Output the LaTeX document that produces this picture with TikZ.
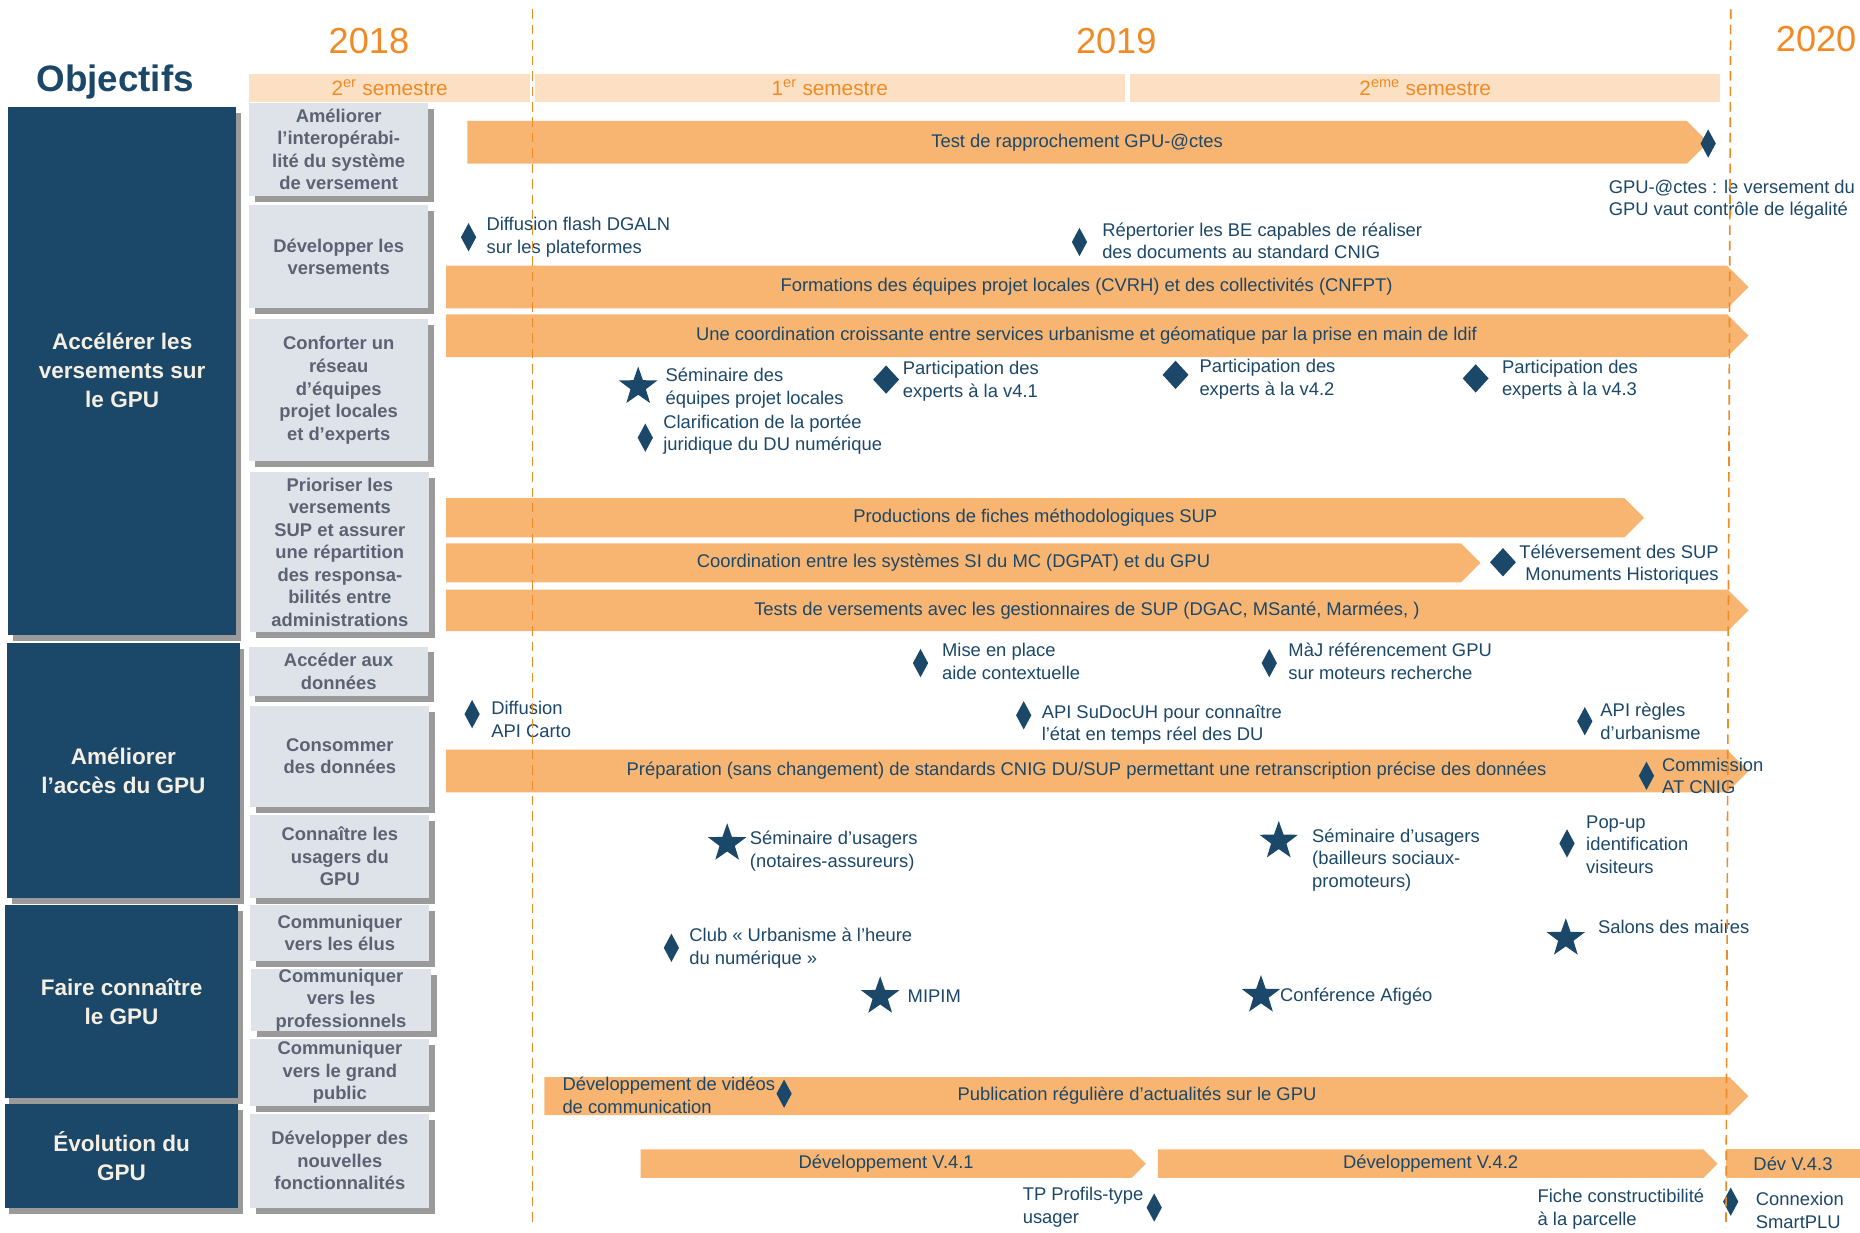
\documentclass[tikz,border=0pt]{standalone}
\usepackage{fontspec}
\setmainfont{Liberation Sans}
\usetikzlibrary{shapes.geometric, shapes.symbols, shadows}
\definecolor{gpublue}{HTML}{1B4769}
\definecolor{goaltext}{HTML}{F4EFE2}
\definecolor{boxgray}{HTML}{DDE3E9}
\definecolor{subtext}{HTML}{5B6272}
\definecolor{shadowgray}{HTML}{9A9A9A}
\definecolor{barorange}{HTML}{F8B572}
\definecolor{semlight}{HTML}{FCE0C3}
\definecolor{yearorange}{HTML}{F08A24}

\begin{document}
\begin{tikzpicture}[x=1pt, y=-1pt,
    goal/.style={rectangle, fill=gpublue, text=goaltext, inner sep=0, align=center,
      font=\bfseries\fontsize{19}{24.5}\selectfont,
      general shadow={fill=shadowgray, shadow xshift=4pt, shadow yshift=-5pt}},
    sub/.style={rectangle, fill=boxgray, text=subtext, inner sep=0, minimum width=151pt, align=center,
      font=\bfseries\fontsize{15.5}{19}\selectfont,
      general shadow={fill=shadowgray, shadow xshift=5pt, shadow yshift=-5pt}},
    task/.style={signal, signal to=east, signal pointer angle=90, fill=barorange, text=gpublue,
      inner sep=0, font=\fontsize{15.5}{19}\selectfont},
    sem/.style={rectangle, fill=semlight, text=yearorange, inner sep=0, minimum height=24pt,
      font=\fontsize{17.5}{20}\selectfont},
    year/.style={text=yearorange, inner sep=0, font=\fontsize{30.5}{32}\selectfont},
    note/.style={text=gpublue, align=left, anchor=west, inner sep=0, font=\fontsize{15.5}{19}\selectfont},
    ms/.style={diamond, fill=gpublue, inner sep=0, minimum width=13pt, minimum height=24pt},
    mb/.style={diamond, fill=gpublue, inner sep=0, minimum width=22pt, minimum height=24pt},
    mk/.style={star, star points=5, star point ratio=2.5, fill=gpublue, inner sep=0, minimum size=34pt},
    cut/.style={draw=yearorange, line width=1.4pt, dash pattern=on 8pt off 5pt}]

    \useasboundingbox (0,0) rectangle (1568,1039);

    \node [text=gpublue, font=\bfseries\fontsize{31}{34}\selectfont] (obj) at (97,69) {Objectifs};
    \node [year] (y1) at (311,35) {2018};
    \node [year] (y2) at (941,35) {2019};
    \node [year] (y3) at (1531,33) {2020};
    \node [sem, minimum width=237pt] (p1) at (328.5,74) {2\textsuperscript{er} semestre};
    \node [sem, minimum width=497pt] (p2) at (699.5,74) {1\textsuperscript{er} semestre};
    \node [sem, minimum width=497pt] (p3) at (1201.5,74) {2\textsuperscript{eme} semestre};

    \node [goal, minimum width=192pt, minimum height=445pt] (o1) at (103,312.5) {Accélérer les\\versements sur\\le GPU};
    \node [goal, minimum width=196pt, minimum height=215pt] (o2) at (104,649.5) {Améliorer\\l’accès du GPU};
    \node [goal, minimum width=197pt, minimum height=163pt] (o3) at (102.5,844.5) {Faire connaître\\le GPU};
    \node [goal, minimum width=197pt, minimum height=87pt] (o4) at (102.5,974.5) {Évolution du\\GPU};

    \node [sub, minimum height=78pt] (s1) at (285.5,126) {Améliorer\\l’interopérabi-\\lité du système\\de versement};
    \node [sub, minimum height=87pt] (s2) at (285.5,216.5) {Développer les\\versements};
    \node [sub, minimum height=120pt] (s3) at (285.5,329) {Conforter un\\réseau\\d’équipes\\projet locales\\et d’experts};
    \node [sub, minimum height=135pt] (s4) at (286.5,465.5) {Prioriser les\\versements\\SUP et assurer\\une répartition\\des responsa-\\bilités entre\\administrations};
    \node [sub, minimum height=42pt] (s5) at (285.5,566) {Accéder aux\\données};
    \node [sub, minimum height=85pt] (s6) at (286.5,637.5) {Consommer\\des données};
    \node [sub, minimum height=70pt] (s7) at (286.5,722) {Connaître les\\usagers du\\GPU};
    \node [sub, minimum height=47pt] (s8) at (286.5,786.5) {Communiquer\\vers les élus};
    \node [sub, minimum height=50pt] (s9) at (287.5,843) {Communiquer\\vers les\\professionnels};
    \node [sub, minimum height=56pt] (s10) at (286.5,904) {Communiquer\\vers le grand\\public};
    \node [sub, minimum height=79pt] (s11) at (286.5,978.5) {Développer des\\nouvelles\\fonctionnalités};

    \node [task, minimum width=1046pt, minimum height=36pt] (b1) at (908,120) {Test de rapprochement GPU-@ctes};
    \node [task, minimum width=1098pt, minimum height=36pt] (b2) at (916,242) {Formations des équipes projet locales (CVRH) et des collectivités (CNFPT)};
    \node [task, minimum width=1098pt, minimum height=36pt] (b3) at (916,283) {Une coordination croissante entre services urbanisme et géomatique par la prise en main de ldif};
    \node [task, minimum width=1010pt, minimum height=33pt] (b4) at (872.75,436.5) {Productions de fiches méthodologiques SUP};
    \node [task, minimum width=872pt, minimum height=33pt] (b5) at (803.75,474.5) {Coordination entre les systèmes SI du MC (DGPAT) et du GPU};
    \node [task, minimum width=1098pt, minimum height=35pt] (b6) at (916.25,514.5) {Tests de versements avec les gestionnaires de SUP (DGAC, MSanté, Marmées, )};
    \node [task, minimum width=1098pt, minimum height=36pt] (b7) at (916,650) {Préparation (sans changement) de standards CNIG DU/SUP permettant une retranscription précise des données};
    \node [task, minimum width=1015pt, minimum height=32pt] (b8) at (958.5,924) {Publication régulière d’actualités sur le GPU};
    \node [task, minimum width=426pt, minimum height=24pt] (b9) at (747,981) {Développement V.4.1};
    \node [task, minimum width=472pt, minimum height=24pt] (b10) at (1206,981) {Développement V.4.2};
    \node [rectangle, fill=barorange, text=gpublue, inner sep=0, minimum width=113pt, minimum height=24pt,
      font=\fontsize{15.5}{19}\selectfont] (b11) at (1511.5,981) {Dév V.4.3};

    \node [ms] (m1) at (395,200) {};
    \node [ms] (m2) at (910,204) {};
    \node [ms] (m3) at (1440,121) {};
    \node [mk] (m4) at (538,326) {};
    \node [mb] (m5) at (747,320) {};
    \node [mb] (m6) at (991,316) {};
    \node [mb] (m7) at (1244,319) {};
    \node [ms] (m8) at (544,369) {};
    \node [mb] (m9) at (1267,474) {};
    \node [ms] (m10) at (776,559) {};
    \node [ms] (m11) at (1070,559) {};
    \node [ms] (m12) at (398,602) {};
    \node [ms] (m13) at (863,603) {};
    \node [ms] (m14) at (1336,608) {};
    \node [ms] (m15) at (1388,654) {};
    \node [mk] (m16) at (613,711) {};
    \node [mk] (m17) at (1078,709) {};
    \node [ms] (m18) at (1321,711) {};
    \node [mk] (m19) at (1320,791) {};
    \node [ms] (m20) at (566,799) {};
    \node [mk] (m21) at (742,840) {};
    \node [mk] (m22) at (1063,839) {};
    \node [ms] (m23) at (661,922) {};
    \node [ms] (m24) at (973,1018) {};
    \node [ms] (m25) at (1459,1013) {};

    \node [note] (t1) at (410,200) {Diffusion flash DGALN\\sur les plateformes};
    \node [note] (t2) at (929,203) {Répertorier les BE capables de réaliser\\des documents au standard CNIG};
    \node [note] (t3) at (1356,168.5) {GPU-@ctes : le versement du\\GPU vaut contrôle de légalité};
    \node [note] (t4) at (561,327) {Séminaire des\\équipes projet locales};
    \node [note] (t5) at (761,321.5) {Participation des\\experts à la v4.1};
    \node [note] (t6) at (1011,319.5) {Participation des\\experts à la v4.2};
    \node [note] (t7) at (1266,320) {Participation des\\experts à la v4.3};
    \node [note] (t8) at (559,366.5) {Clarification de la portée\\juridique du DU numérique};
    \node [note, align=right, anchor=east] (t9) at (1449,476) {Téléversement des SUP\\Monuments Historiques};
    \node [note] (t10) at (794,557.5) {Mise en place\\aide contextuelle};
    \node [note] (t11) at (1086,557.5) {MàJ référencement GPU\\sur moteurs recherche};
    \node [note] (t12) at (414,606.5) {Diffusion\\API Carto};
    \node [note] (t13) at (878,611) {API SuDocUH pour connaître\\l’état en temps réel des DU};
    \node [note] (t14) at (1349,608) {API règles\\d’urbanisme};
    \node [note] (t15) at (1401,654) {Commission\\AT CNIG};
    \node [note] (t16) at (632,717.5) {Séminaire d’usagers\\(notaires-assureurs)};
    \node [note] (t17) at (1106,725) {Séminaire d’usagers\\(bailleurs sociaux-\\promoteurs)};
    \node [note] (t18) at (1337,712) {Pop-up\\identification\\visiteurs};
    \node [note] (t19) at (1347,781) {Salons des maires};
    \node [note] (t20) at (581,799.5) {Club « Urbanisme à l’heure\\du numérique »};
    \node [note] (t21) at (765,840) {MIPIM};
    \node [note] (t22) at (1079,840) {Conférence Afigéo};
    \node [note] (t23) at (474,923.5) {Développement de vidéos\\de communication};
    \node [note] (t24) at (862,1017.5) {TP Profils-type\\usager};
    \node [note] (t25) at (1296,1019.5) {Fiche constructibilité\\à la parcelle};
    \node [note] (t26) at (1480,1020.5) {Connexion\\SmartPLU};

    \coordinate (c1) at (449,8);
    \coordinate (c2) at (449,1035);
    \coordinate (c3) at (1459,8);
    \coordinate (c4) at (1455,1035);
    \draw [cut] (c1) -- (c2);
    \draw [cut] (c3) -- (c4);
\end{tikzpicture}
\end{document}
